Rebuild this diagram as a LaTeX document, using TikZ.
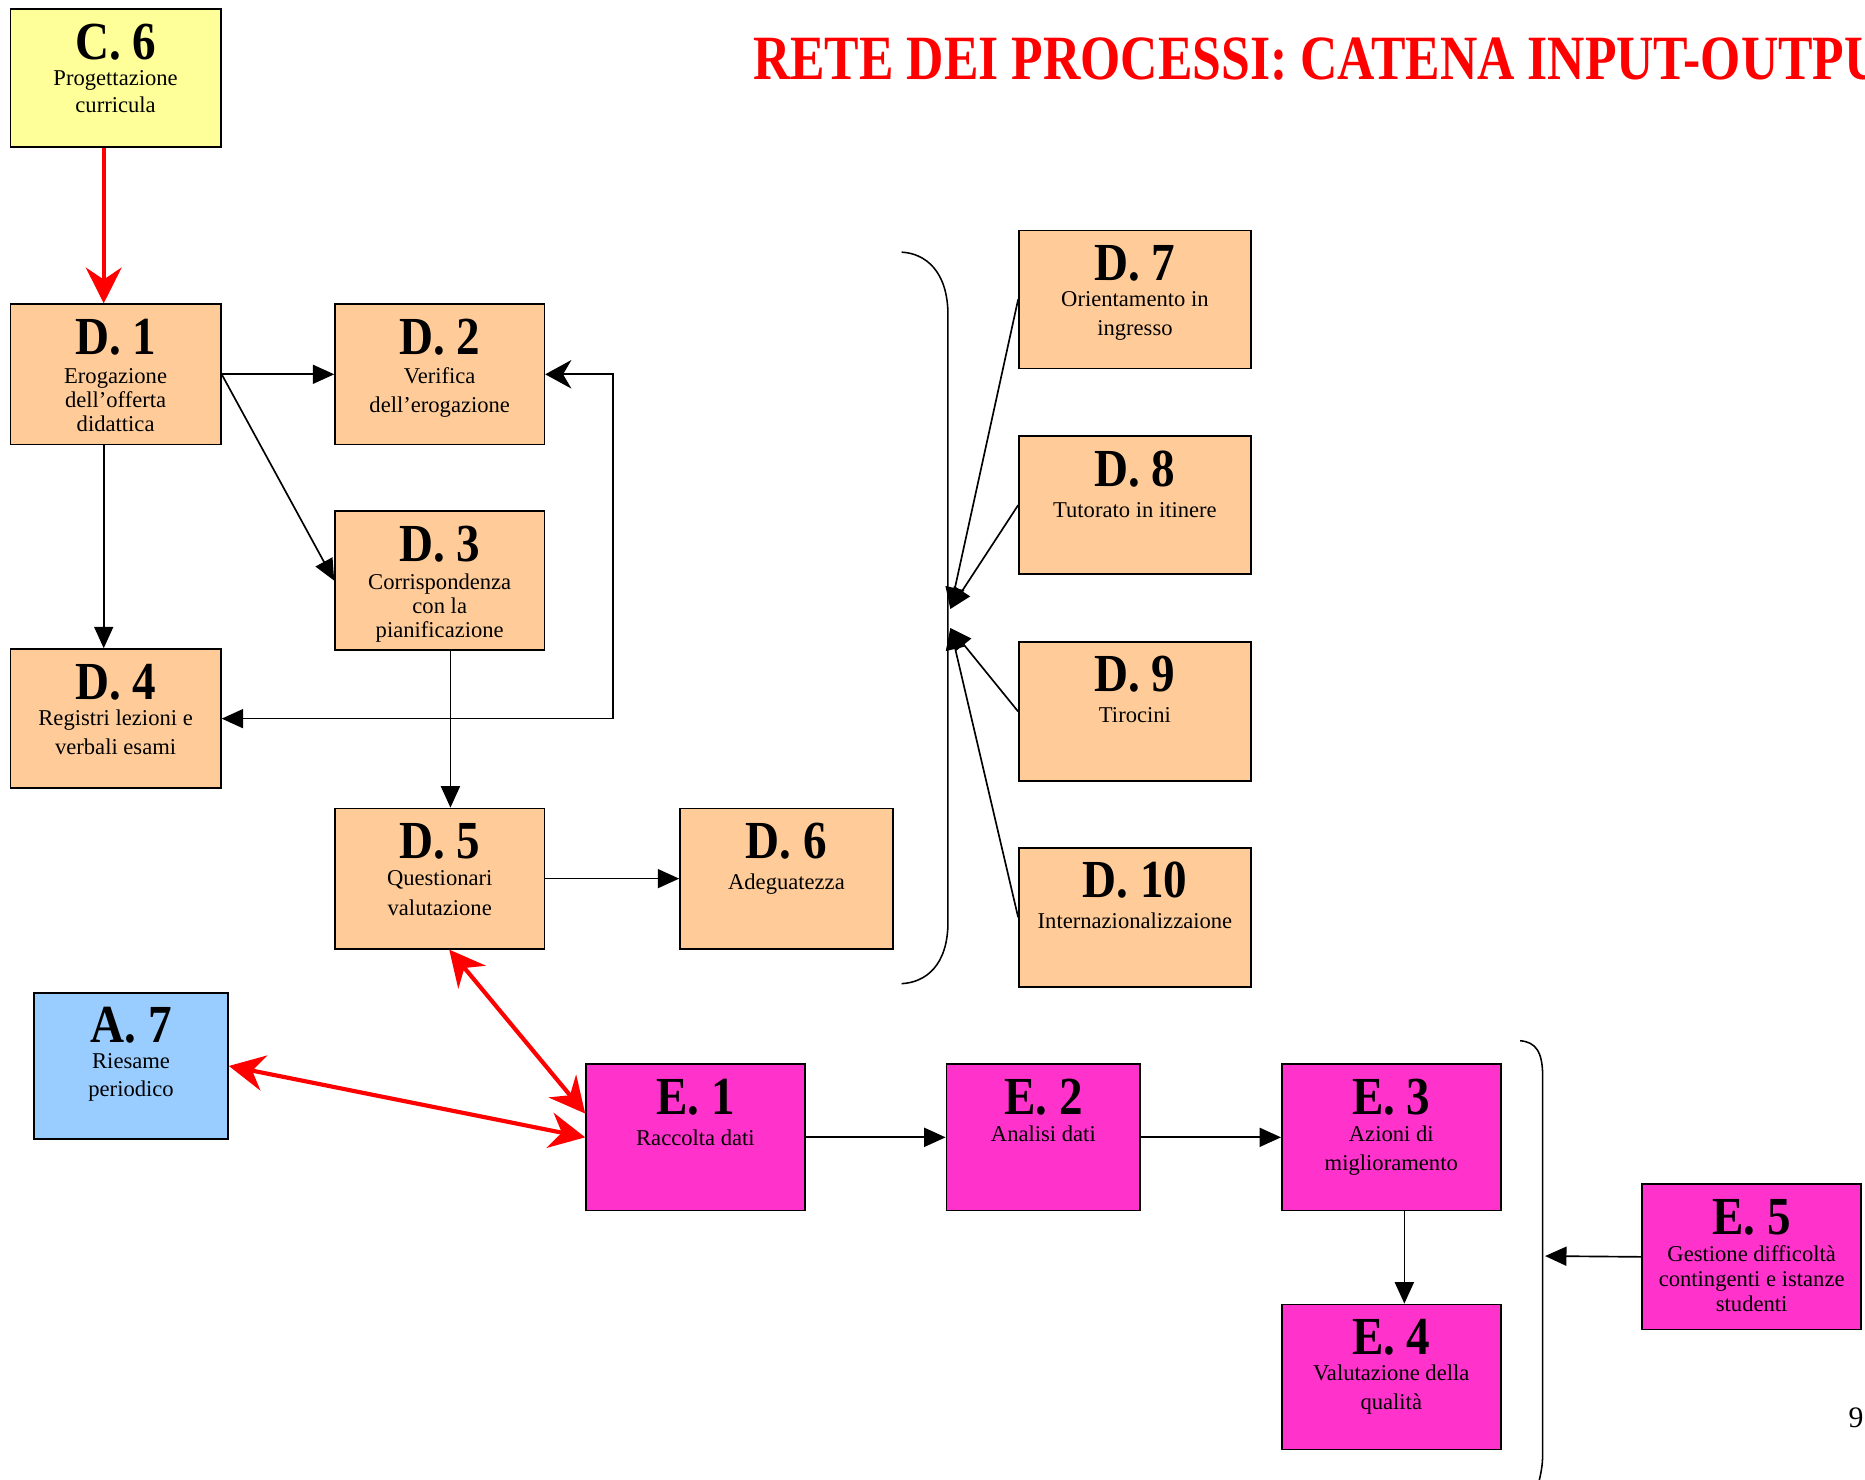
\documentclass[tikz,border=0pt]{standalone}
\usepackage{fontspec}
\usepackage{graphicx}
\setmainfont{Liberation Serif}
\usetikzlibrary{arrows.meta,calc}
\definecolor{orangebox}{HTML}{FFCC99}
\definecolor{yellowbox}{HTML}{FFFF99}
\definecolor{bluebox}{HTML}{99CCFF}
\definecolor{magentabox}{HTML}{FF33CC}
% #1 width, #2 height, #3 heading, #4 first body baseline, #5 body baselineskip, #6 body
\newcommand\cellbox[6]{\parbox[t][#2pt][t]{#1pt}{\centering
 {\fontsize{45}{45}\selectfont\bfseries\rule{0pt}{42pt}\scalebox{0.88}[1]{#3}\par}%
 \fontsize{19}{#5}\selectfont\vspace*{\dimexpr #4pt-42pt-#5pt\relax}#6\par}}
\tikzset{
  procbox/.style={draw, line width=1.4pt, inner sep=0pt, anchor=north west},
  blk/.style={line width=1.4pt, -{Triangle[length=18pt,width=16pt]}},
  redarr/.style={draw=red, line width=3.5pt, -{Stealth[length=30pt,width=30pt,inset=10pt]}},
  redboth/.style={draw=red, line width=3.5pt, {Stealth[length=30pt,width=30pt,inset=10pt]}-{Stealth[length=30pt,width=30pt,inset=10pt]}},
  bracel/.style={line width=1.3pt}
}
\begin{document}
\begin{tikzpicture}[x=1pt,y=-1pt]
\useasboundingbox (0,0) rectangle (1568,1244);
\clip (0,0) rectangle (1568,1244);
\fill[white] (0,0) rectangle (1568,1244);

\node[anchor=base west, inner sep=0pt, text=red, font=\fontsize{53}{60}\selectfont\bfseries] (title) at (633,67)
  {\scalebox{0.82}[1]{RETE DEI PROCESSI: CATENA INPUT-OUTPUT}};

\node[procbox, fill=yellowbox] (c6) at (8,7) {\cellbox{177}{116}{C. 6}{64}{23}{Progettazione\\curricula}};
\node[procbox, fill=orangebox] (d1) at (8,255) {\cellbox{177}{118}{D. 1}{67}{20}{Erogazione\\dell’offerta\\didattica}};
\node[procbox, fill=orangebox] (d2) at (281,255) {\cellbox{176}{118}{D. 2}{67}{24}{Verifica\\dell’erogazione}};
\node[procbox, fill=orangebox] (d3) at (281,429) {\cellbox{176}{117}{D. 3}{66}{20}{Corrispondenza\\con la\\pianificazione}};
\node[procbox, fill=orangebox] (d4) at (8,545) {\cellbox{177}{117}{D. 4}{64}{25}{Registri lezioni e\\verbali esami}};
\node[procbox, fill=orangebox] (d5) at (281,679) {\cellbox{176}{118}{D. 5}{65}{25}{Questionari\\valutazione}};
\node[procbox, fill=orangebox] (d6) at (571,679) {\cellbox{179}{118}{D. 6}{68}{24}{Adeguatezza}};
\node[procbox, fill=orangebox] (d7) at (856,193) {\cellbox{195}{116}{D. 7}{64}{24}{Orientamento in\\ingresso}};
\node[procbox, fill=orangebox] (d8) at (856,366) {\cellbox{195}{116}{D. 8}{68}{24}{Tutorato in itinere}};
\node[procbox, fill=orangebox] (d9) at (856,539) {\cellbox{195}{117}{D. 9}{68}{24}{Tirocini}};
\node[procbox, fill=orangebox] (d10) at (856,712) {\cellbox{195}{117}{D. 10}{68}{24}{Internazionalizzaione}};
\node[procbox, fill=bluebox] (a7) at (28,834) {\cellbox{163}{123}{A. 7}{64}{23}{Riesame\\periodico}};
\node[procbox, fill=magentabox] (e1) at (492,894) {\cellbox{184}{123}{E. 1}{68}{24}{Raccolta dati}};
\node[procbox, fill=magentabox] (e2) at (795,894) {\cellbox{163}{123}{E. 2}{65}{24}{Analisi dati}};
\node[procbox, fill=magentabox] (e3) at (1077,894) {\cellbox{184}{123}{E. 3}{65}{24}{Azioni di\\miglioramento}};
\node[procbox, fill=magentabox] (e4) at (1077,1096) {\cellbox{184}{122}{E. 4}{64}{24}{Valutazione della\\qualità}};
\node[procbox, fill=magentabox] (e5) at (1380,995) {\cellbox{184}{122}{E. 5}{65}{21}{Gestione difficoltà\\contingenti e istanze\\studenti}};

\node[anchor=base west, inner sep=0pt, font=\fontsize{25}{25}\selectfont] (pg) at (1554,1200) {9};

% braces
\draw[bracel] (758,212) .. controls (778,213) and (797,228) .. (797,265) -- (797,775) .. controls (797,812) and (778,826) .. (758,827);
\draw[bracel] (1278,875) .. controls (1291,876) and (1297,884) .. (1297,905) -- (1297,1222) .. controls (1297,1234) and (1295,1240) .. (1293,1250);
\coordinate (bp1) at (799,512);
\coordinate (bp2) at (799,528);
\coordinate (bk2) at (1299,1056);

% connectors
\draw[redarr] ([xshift=-10pt]c6.south) -- ([xshift=-10pt]d1.north);
\draw[blk] (d1.east) -- (d2.west);
\draw[blk] (d1.east) -- (d3.west);
\draw[blk] ([xshift=-10pt]d1.south) -- ([xshift=-10pt]d4.north);
\draw[blk] ([xshift=9pt]d3.south) -- ([xshift=9pt]d5.north);
\draw[line width=1.4pt, {Triangle[length=18pt,width=16pt]}-{Stealth[length=22pt,width=24pt,inset=7pt]}] (d4.east) -- ++(329,0) |- (d2.east);
\draw[blk] (d5.east) -- (d6.west);
\draw[blk] (d7.west) -- (bp1);
\draw[blk] (d8.west) -- (bp1);
\draw[blk] (d9.west) -- (bp2);
\draw[blk] (d10.west) -- (bp2);
\draw[redboth] ([xshift=8pt]d5.south) -- ([yshift=20pt]e1.west);
\draw[redboth] (a7.east) -- (e1.west);
\draw[blk] (e1.east) -- (e2.west);
\draw[blk] (e2.east) -- (e3.west);
\draw[blk] ([xshift=11pt]e3.south) -- ([xshift=11pt]e4.north);
\draw[blk] (e5.west) -- (bk2);
\end{tikzpicture}
\end{document}
